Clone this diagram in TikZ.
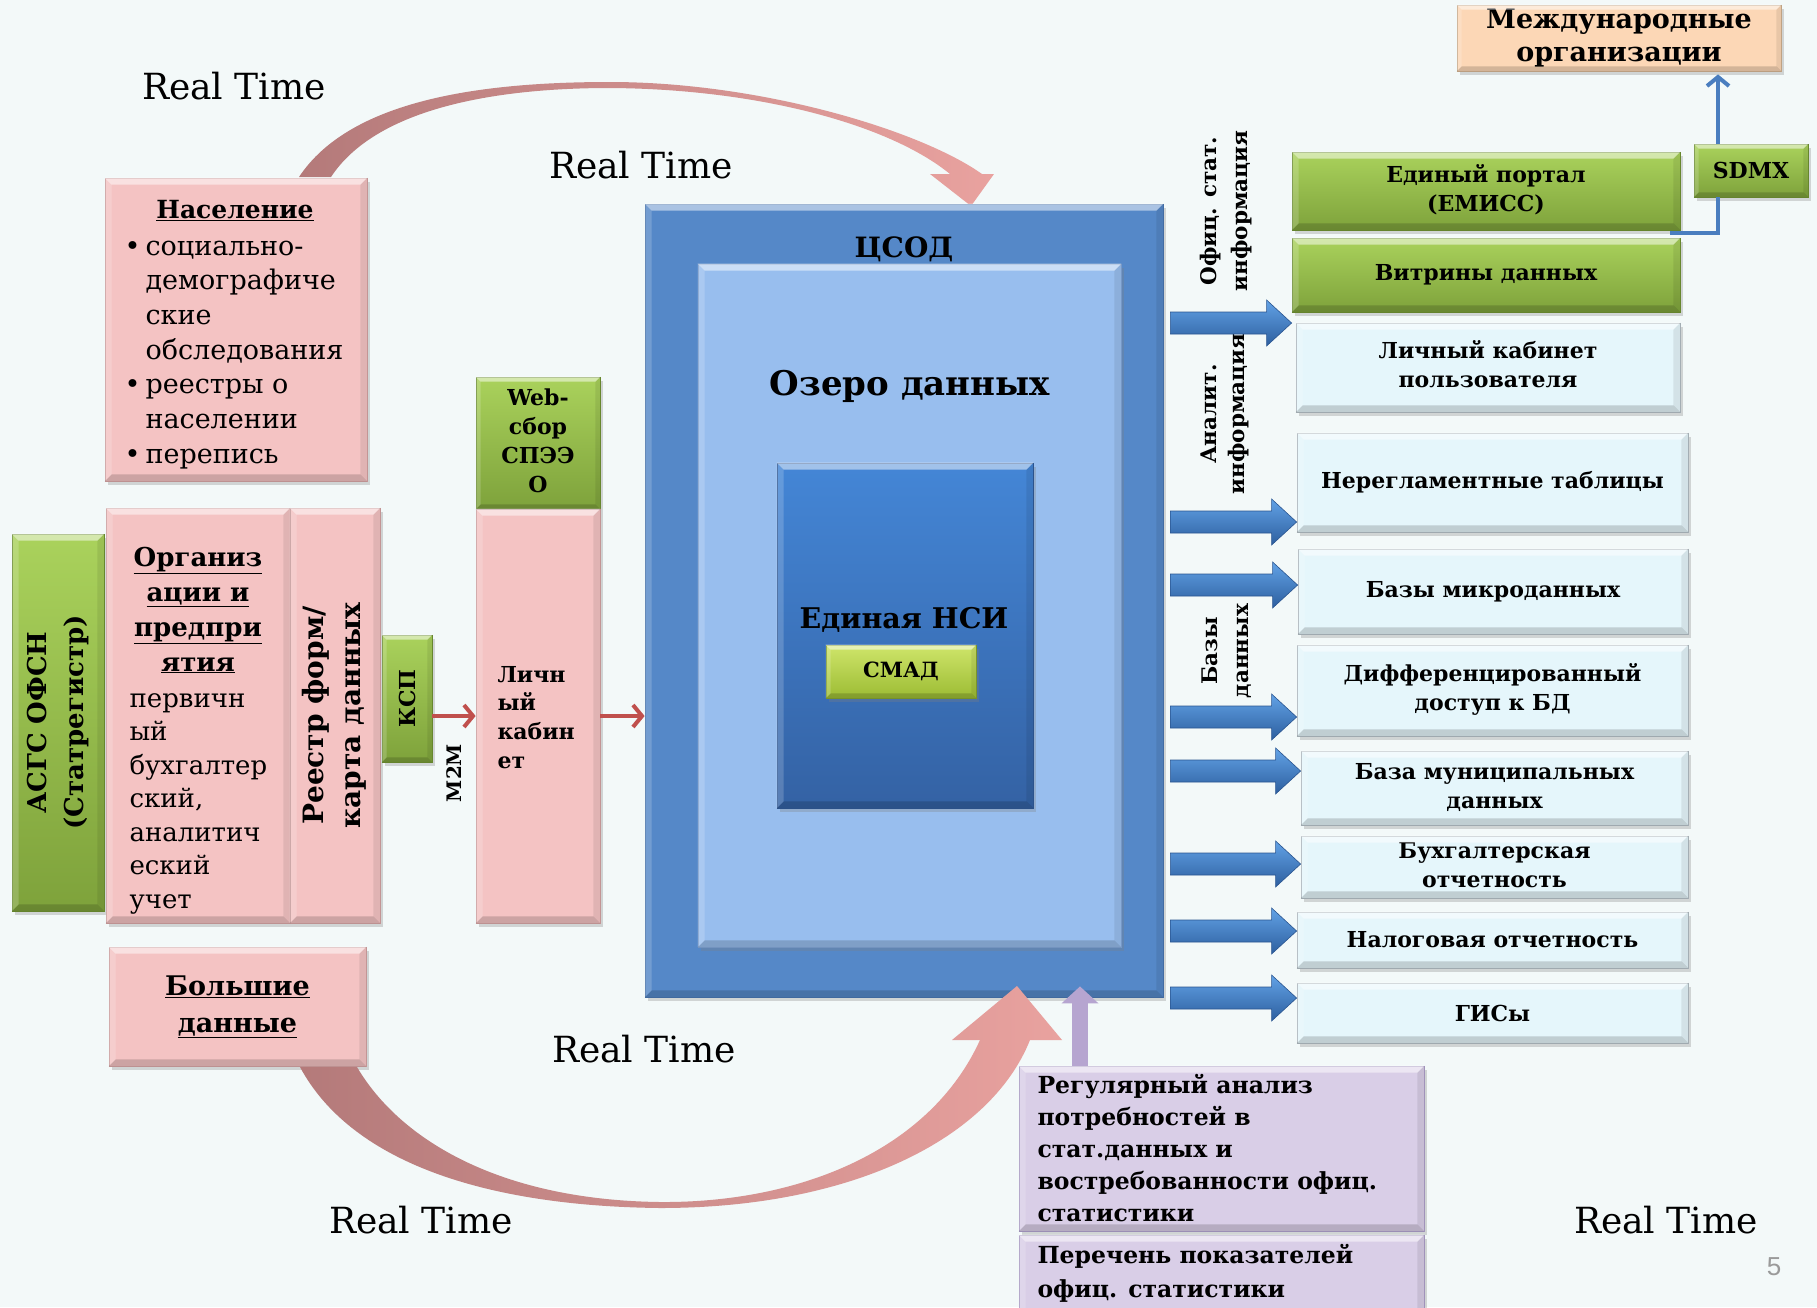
\documentclass[tikz,border=0pt]{standalone}
\usepackage{fontspec}
\usepackage{graphicx}
\setmainfont{DejaVu Serif}
\newfontfamily\numfont{Liberation Sans}
\usetikzlibrary{shadows,arrows.meta,calc}
\definecolor{bgc}{HTML}{F3F9F9}
\definecolor{pinkF}{HTML}{F4C3C3}
\definecolor{pinkE}{HTML}{C99A9A}
\definecolor{greenT}{HTML}{AAD25C}
\definecolor{greenB}{HTML}{7EA23B}
\definecolor{greenE}{HTML}{6A8B30}
\definecolor{cyanF}{HTML}{E5F6FB}
\definecolor{cyanE}{HTML}{A9B3BA}
\definecolor{purpF}{HTML}{D9CEE7}
\definecolor{purpE}{HTML}{A597C0}
\definecolor{peachF}{HTML}{FCD7B6}
\definecolor{peachE}{HTML}{C6A888}
\definecolor{csodF}{HTML}{5588C8}
\definecolor{csodE}{HTML}{4470A8}
\definecolor{lakeF}{HTML}{98BEEE}
\definecolor{lakeE}{HTML}{7A9CCB}
\definecolor{nsiT}{HTML}{4486D6}
\definecolor{nsiB}{HTML}{3462A4}
\definecolor{nsiE}{HTML}{2E5690}
\definecolor{smadT}{HTML}{CFE56A}
\definecolor{smadB}{HTML}{9CBC34}
\definecolor{smadE}{HTML}{7E9A2C}
\definecolor{arcD}{HTML}{B47A7A}
\definecolor{arcM}{HTML}{EBCDCD}
\definecolor{arcL}{HTML}{E9A29F}
\definecolor{barT}{HTML}{62A2E6}
\definecolor{barB}{HTML}{2D5F9F}
\definecolor{barE}{HTML}{2A5590}
\definecolor{redA}{HTML}{C0504D}
\definecolor{blineC}{HTML}{4A7EBF}
\definecolor{purpA}{HTML}{B6A5D0}
\definecolor{graynum}{HTML}{9A9A9A}
\newcommand\fsz[2]{\fontsize{#1}{#2}\selectfont}
\newcommand\lns[2]{\begin{tabular}[t]{@{}#1@{}}#2\end{tabular}}
\newcommand\bx[7][]{\node[inner sep=0pt, minimum width={#5-#3}, minimum height={#6-#4}, #1] (#2) at ({(#3+#5)/2},{(#4+#6)/2}) {#7};}
\newcommand\bev[2][7pt]{%
 \fill[white,opacity=.5] (#2.north west) -- (#2.north east) -- ([xshift=-#1,yshift=-#1]#2.north east) -- ([xshift=#1,yshift=-#1]#2.north west) -- cycle;
 \fill[white,opacity=.18] (#2.north west) -- ([xshift=#1,yshift=-#1]#2.north west) -- ([xshift=#1,yshift=#1]#2.south west) -- (#2.south west) -- cycle;
 \fill[black,opacity=.08] (#2.north east) -- ([xshift=-#1,yshift=-#1]#2.north east) -- ([xshift=-#1,yshift=#1]#2.south east) -- (#2.south east) -- cycle;
 \fill[black,opacity=.16] (#2.south west) -- ([xshift=#1,yshift=#1]#2.south west) -- ([xshift=-#1,yshift=#1]#2.south east) -- (#2.south east) -- cycle;}
\newcommand\barrow[2]{%
 \coordinate (bt) at (#1.west |- 0,#2);
 \coordinate (bs) at (csod.east |- 0,#2);
 \path[draw=barE, line width=.6pt, top color=barT, bottom color=barB] ($(bs)+(7,-11)$) -- ($(bt)+(-25,-11)$) -- ($(bt)+(-25,-23)$) -- (bt) -- ($(bt)+(-25,23)$) -- ($(bt)+(-25,11)$) -- ($(bs)+(7,11)$) -- cycle;}
\begin{document}
\begin{tikzpicture}[x=1pt,y=-1pt,
  shad/.style={drop shadow={opacity=.3,shadow xshift=3pt,shadow yshift=-4pt}},
  pinkbox/.style={shad, draw=pinkE, line width=.8pt, fill=pinkF},
  greenbox/.style={shad, draw=greenE, line width=.8pt, top color=greenT, bottom color=greenB},
  cyanbox/.style={shad, draw=cyanE, line width=.8pt, fill=cyanF},
  purpbox/.style={shad, draw=purpE, line width=.8pt, fill=purpF},
  peachbox/.style={shad, draw=peachE, line width=.8pt, fill=peachF},
  rbt/.style={font=\bfseries\fsz{22}{29}},
  rt/.style={font=\fsz{36}{40}},
  redarr/.style={draw=redA, line width=4pt, -{Straight Barb[length=9pt,width=22pt]}},
  bline/.style={draw=blineC, line width=4pt},
]
\useasboundingbox (0,0) rectangle (1817,1307);
\fill[bgc] (0,0) rectangle (1817,1307);
\begin{scope}
\clip (0,0) rectangle (1817,1307);
% top curved arrow
\path[left color=arcD, middle color=arcM, right color=arcL] (299,177) .. controls (350,100) and (480,82) .. (610,82) .. controls (760,82) and (920,130) .. (982,174) -- (994,174) -- (971,206) -- (930,174) -- (950,174) .. controls (890,125) and (760,89) .. (610,88) .. controls (490,88) and (375,110) .. (331,177) -- cycle;

% left boxes
\bx[pinkbox]{nas}{105}{178}{367}{481}{}
\bx[greenbox]{asgs}{12}{534}{104}{911}{\rotatebox{90}{\bfseries\fsz{26}{37}\lns{c}{АСГС ОФСН\\(Статрегистр)}}}
\bx[pinkbox]{org}{106}{508}{290}{923}{}
\bx[pinkbox]{reestr}{290}{508}{380}{923}{\rotatebox{90}{\bfseries\fsz{28}{37}\lns{c}{Реестр форм/\\карта данных}}}
\bx[greenbox]{ksp}{382}{635}{432}{762}{\rotatebox{90}{\bfseries\fsz{22}{26}КСП}}
\bx[greenbox]{web}{476}{377}{600}{509}{\bfseries\fsz{22}{29}\lns{c}{Web-\\сбор\\СПЭЭ\\О}}
\bx[pinkbox]{lk}{476}{509}{600}{923}{}
\bx[pinkbox]{big}{109}{947}{366}{1066}{\bfseries\fsz{27}{37}\lns{c}{\underline{Большие}\\\underline{данные}}}

% central block
\bx[shad, draw=csodE, fill=csodF, line width=.8pt]{csod}{645}{204}{1163}{997}{}
\bx[draw=lakeE, fill=lakeF, line width=.8pt, shad]{lake}{698}{264}{1121}{947}{}
\bx[shad, draw=nsiE, line width=.8pt, top color=nsiT, bottom color=nsiB]{nsi}{777}{463}{1033}{808}{}
\bx[shad, draw=smadE, line width=.8pt, top color=smadT, bottom color=smadB]{smad}{826}{645}{976}{698}{\bfseries\fsz{21}{24}СМАД}

% right boxes
\bx[peachbox]{intl}{1457}{7}{1781}{69}{\bfseries\fsz{27}{33}\lns{c}{Международные\\организации}}
\bx[greenbox]{sdmx}{1694}{144}{1808}{197}{\bfseries\fsz{22}{26}SDMX}
\bx[greenbox,rbt]{portal}{1292}{152}{1680}{230}{\lns{c}{Единый портал\\(ЕМИСС)}}
\bx[greenbox,rbt]{vitr}{1292}{238}{1680}{312}{Витрины данных}
\bx[cyanbox,rbt]{lkp}{1296}{323}{1680}{412}{\lns{c}{Личный кабинет\\пользователя}}
\bx[cyanbox,rbt]{nereg}{1297}{433}{1688}{532}{Нерегламентные таблицы}
\bx[cyanbox,rbt]{micro}{1298}{549}{1688}{634}{Базы микроданных}
\bx[cyanbox,rbt]{diff}{1297}{645}{1688}{736}{\lns{c}{Дифференцированный\\доступ к БД}}
\bx[cyanbox,rbt]{mun}{1301}{751}{1688}{825}{\lns{c}{База муниципальных\\данных}}
\bx[cyanbox,rbt]{buh}{1301}{836}{1688}{898}{\lns{c}{Бухгалтерская\\отчетность}}
\bx[cyanbox,rbt]{nal}{1297}{912}{1688}{968}{Налоговая отчетность}
\bx[cyanbox,rbt]{gis}{1297}{983}{1688}{1043}{ГИСы}

% bottom boxes
\bx[purpbox]{reg}{1019}{1066}{1424}{1231}{}
\bx[purpbox]{per}{1019}{1235}{1424}{1320}{}

% bevels
\foreach \n in {nas,asgs,org,reestr,lk,big,csod,lake,nsi,portal,vitr,lkp,nereg,micro,diff,mun,buh,nal,gis,reg,per}{\bev{\n}}
\foreach \n in {ksp,web,smad,sdmx,intl}{\bev[5pt]{\n}}

% texts inside boxes
\node[anchor=base, font=\bfseries\fsz{25}{30}] (nast) at (235,218) {\underline{Население}};
\node[anchor=base west, font=\fsz{27}{34.7}] (nasb) at (142,255) {\lns{l}{\llap{•\hspace{5pt}}социально-\\демографиче\\ские\\обследования\\\llap{•\hspace{5pt}}реестры о\\населении\\\llap{•\hspace{5pt}}перепись}};
\node[anchor=base, font=\bfseries\fsz{26}{35}] (orgt) at (198,566) {\lns{c}{\underline{Организ}\\\underline{ации и}\\\underline{предпри}\\\underline{ятия}}};
\node[anchor=base west, font=\fsz{26}{33.5}] (orgb) at (126,707) {\lns{l}{первичн\\ый\\бухгалтер\\ский,\\аналитич\\еский\\учет}};
\node[anchor=base west, font=\bfseries\fsz{22}{28.7}] (lkt) at (494,682) {\lns{l}{Личн\\ый\\кабин\\ет}};
\node (m2m) at (454,773) {\rotatebox{90}{\bfseries\fsz{20}{24}М2М}};
\node[anchor=base, font=\bfseries\fsz{28}{32}] (csodt) at (904,257) {ЦСОД};
\node[anchor=base, font=\bfseries\fsz{34}{40}] (laket) at (910,395) {Озеро данных};
\node[anchor=base, font=\bfseries\fsz{28.5}{32}] (nsit) at (904,628) {Единая НСИ};
\node[anchor=base west, font=\bfseries\fsz{23.5}{32}] (regt) at (1034,1093) {\lns{l}{Регулярный анализ\\потребностей в\\стат.данных и\\востребованности офиц.\\статистики}};
\node[anchor=base west, font=\bfseries\fsz{23.5}{34}] (pert) at (1034,1263) {\lns{l}{Перечень показателей\\офиц. статистики}};

% rotated side labels
\node (lab1) at (1226,211) {\rotatebox{90}{\bfseries\fsz{21.5}{31}\lns{c}{Офиц. стат.\\информация}}};
\node (lab2) at (1225,414) {\rotatebox{90}{\bfseries\fsz{21.5}{28}\lns{c}{Аналит.\\информация}}};
\node (lab3) at (1227,651) {\rotatebox{90}{\bfseries\fsz{21.5}{31}\lns{c}{Базы\\данных}}};

% connectors
\draw[redarr] (lk.west -| ksp.east) -- (lk.west);
\draw[redarr] (lk.east) -- (lk.east -| csod.west);
\barrow{vitr}{323}
\barrow{nereg}{522}
\barrow{micro}{585}
\barrow{diff}{717}
\barrow{mun}{771}
\barrow{buh}{864}
\barrow{nal}{931}
\barrow{gis}{998}
\draw[bline] ([xshift=-10pt,yshift=-3pt]portal.south east) -| ([xshift=-33pt]sdmx.south);
\coordinate (sd1) at ([xshift=-33pt]sdmx.north);
\draw[bline,-{Straight Barb[length=9pt,width=22pt]}, shorten >=3pt] (sd1) -- (sd1 |- intl.south);
\coordinate (pa) at ([xshift=-141.5pt]reg.north);
\draw[line width=16pt, draw=purpA, -{Triangle[width=36pt,length=17pt]}, shorten >=-11pt] (pa) -- (pa |- csod.south);

% bottom curved arrow
\path[left color=arcD, middle color=arcM, right color=arcL] (300,1067) .. controls (350,1160) and (480,1206) .. (660,1208) .. controls (850,1208) and (990,1140) .. (1030,1040) -- (1062,1040) -- (1017,986) -- (952,1040) -- (980,1040) .. controls (930,1150) and (800,1203) .. (660,1202) .. controls (500,1200) and (400,1140) .. (357,1067) -- cycle;

% free labels
\node[rt] (rt1) at (234,86) {Real Time};
\node[rt] (rt2) at (641,165) {Real Time};
\node[rt] (rt3) at (644,1049) {Real Time};
\node[rt] (rt4) at (421,1220) {Real Time};
\node[rt] (rt5) at (1666,1220) {Real Time};
\node[font=\numfont\fsz{26}{30}, text=graynum] (pg) at (1774,1267) {5};
\end{scope}
\end{tikzpicture}
\end{document}
